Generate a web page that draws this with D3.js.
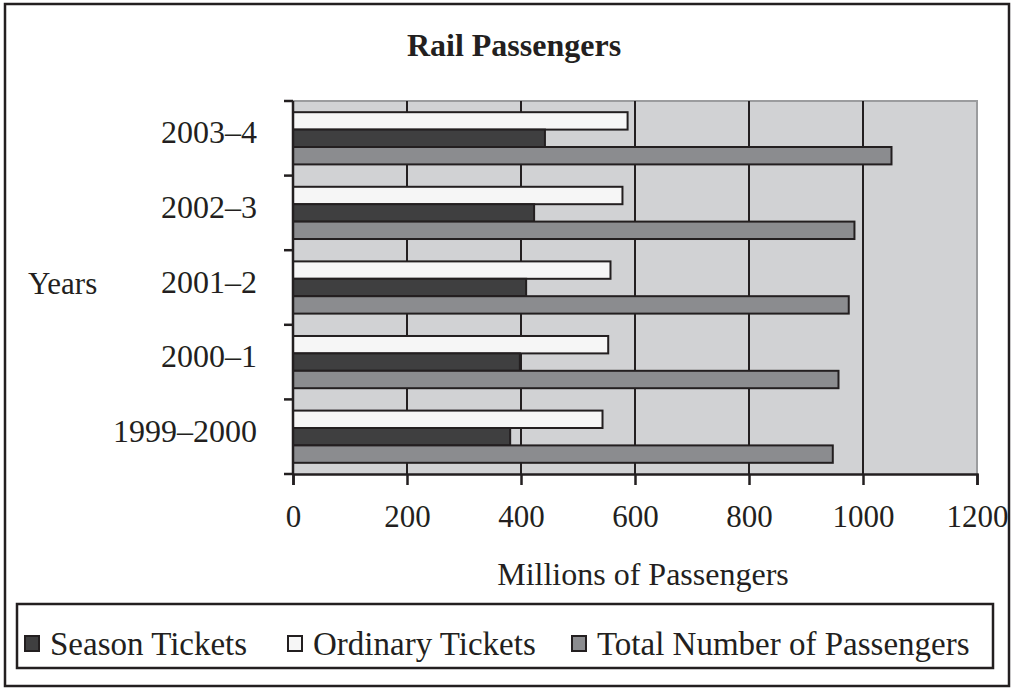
<!DOCTYPE html>
<html>
<head>
<meta charset="utf-8">
<script src="https://cdn.jsdelivr.net/npm/d3@7"></script>
<style>
  body { margin: 0; background: #fff; }
  text { font-family: "Liberation Serif", "Times New Roman", serif; fill: #231f20; }
</style>
</head>
<body>
<div id="chart"></div>
<script>
// Rail passengers chart - horizontal grouped bars
var years = ["2003–4", "2002–3", "2001–2", "2000–1", "1999–2000"];
var seriesNames = ["Ordinary Tickets", "Season Tickets", "Total Number of Passengers"];
var ordinary = [587, 578, 557, 553, 543];
var season = [442, 423, 409, 398, 381];
var total = [1050, 985, 975, 957, 947];
var xTicks = [0, 200, 400, 600, 800, 1000, 1200];
var legendOrder = ["Season Tickets", "Ordinary Tickets", "Total Number of Passengers"];

(function() {
	var width = 1015,
		height = 693;

	var plot = { left: 293, right: 977, top: 101, bottom: 474 };

	var rows = years.map(function(y, i) {
		return { year: y, values: [ordinary[i], season[i], total[i]] };
	});

	var svg = d3.select("#chart")
				.append("svg")
				.attr("width", width)
				.attr("height", height);

	// outer frame
	svg.append("rect")
		.attr("x", 5)
		.attr("y", 4)
		.attr("width", 1004)
		.attr("height", 682)
		.attr("fill", "none")
		.attr("stroke", "#231f20")
		.attr("stroke-width", 2.5);

	var xScale = d3.scaleLinear()
					.domain([0, 1200])
					.range([plot.left, plot.right]);

	var yScale = d3.scaleBand()
					.domain(years)
					.range([plot.top, plot.bottom])
					.paddingInner(0.3)
					.paddingOuter(0.15);

	var subScale = d3.scaleBand()
					.domain(seriesNames)
					.range([0, yScale.bandwidth()]);

	var colorScale = d3.scaleOrdinal()
					.domain(seriesNames)
					.range(["#f6f6f6", "#3f3f40", "#8b8c8f"]);

	// plot background
	svg.append("rect")
		.attr("x", plot.left)
		.attr("y", plot.top)
		.attr("width", plot.right - plot.left)
		.attr("height", plot.bottom - plot.top)
		.attr("fill", "#d1d2d4");

	// top and right edge in grey
	svg.append("path")
		.attr("d", "M" + plot.left + "," + plot.top + "H" + plot.right + "V" + plot.bottom)
		.attr("fill", "none")
		.attr("stroke", "#9b9c9e")
		.attr("stroke-width", 2);

	// vertical gridlines
	svg.selectAll(".grid")
		.data(xTicks.slice(1, -1))
		.enter()
		.append("line")
		.attr("class", "grid")
		.attr("x1", function(d) { return xScale(d); })
		.attr("x2", function(d) { return xScale(d); })
		.attr("y1", plot.top)
		.attr("y2", plot.bottom)
		.attr("stroke", "#231f20")
		.attr("stroke-width", 2);

	// bars
	var groups = svg.selectAll(".row")
		.data(rows)
		.enter()
		.append("g")
		.attr("class", "row")
		.attr("transform", function(d) { return "translate(0," + yScale(d.year) + ")"; });

	groups.selectAll("rect")
		.data(function(d) {
			return d.values.map(function(v, i) { return { name: seriesNames[i], value: v }; });
		})
		.enter()
		.append("rect")
		.attr("x", xScale(0))
		.attr("y", function(d) { return subScale(d.name); })
		.attr("width", function(d) { return xScale(d.value) - xScale(0); })
		.attr("height", subScale.bandwidth())
		.attr("fill", function(d) { return colorScale(d.name); })
		.attr("stroke", "#231f20")
		.attr("stroke-width", 2);

	// x axis
	var xAxis = d3.axisBottom(xScale)
				.tickValues(xTicks)
				.tickSize(11)
				.tickPadding(20)
				.tickFormat(d3.format("d"));

	var gx = svg.append("g")
		.attr("transform", "translate(0," + plot.bottom + ")")
		.call(xAxis);
	gx.select(".domain").attr("stroke", "#231f20").attr("stroke-width", 2.5);
	gx.selectAll(".tick line").attr("stroke", "#231f20").attr("stroke-width", 2.5);
	gx.selectAll(".tick text")
		.attr("font-family", "Liberation Serif, Times New Roman, serif")
		.attr("font-size", 31)
		.attr("fill", "#231f20");

	// y axis line and ticks at band boundaries
	var boundaries = years.map(function(y) { return yScale(y) - yScale.step() * yScale.paddingInner() / 2; });
	boundaries.push(plot.bottom);

	svg.append("line")
		.attr("x1", plot.left)
		.attr("x2", plot.left)
		.attr("y1", plot.top)
		.attr("y2", plot.bottom)
		.attr("stroke", "#231f20")
		.attr("stroke-width", 2.5);

	svg.selectAll(".ytick")
		.data(boundaries)
		.enter()
		.append("line")
		.attr("class", "ytick")
		.attr("x1", plot.left - 9)
		.attr("x2", plot.left)
		.attr("y1", function(d) { return d; })
		.attr("y2", function(d) { return d; })
		.attr("stroke", "#231f20")
		.attr("stroke-width", 2.5);

	svg.selectAll(".ylabel")
		.data(years)
		.enter()
		.append("text")
		.attr("class", "ylabel")
		.attr("x", 257)
		.attr("y", function(d) { return yScale(d) + yScale.bandwidth() / 2 + 5; })
		.attr("text-anchor", "end")
		.attr("font-size", 32)
		.text(function(d) { return d; });

	// titles
	svg.append("text")
		.attr("x", 514)
		.attr("y", 56)
		.attr("text-anchor", "middle")
		.attr("font-size", 32)
		.attr("font-weight", "bold")
		.text("Rail Passengers");

	svg.append("text")
		.attr("x", 28)
		.attr("y", 294)
		.attr("font-size", 31)
		.text("Years");

	svg.append("text")
		.attr("x", 643)
		.attr("y", 585)
		.attr("text-anchor", "middle")
		.attr("font-size", 32)
		.text("Millions of Passengers");

	// legend
	svg.append("rect")
		.attr("x", 17)
		.attr("y", 604)
		.attr("width", 976)
		.attr("height", 64)
		.attr("fill", "none")
		.attr("stroke", "#231f20")
		.attr("stroke-width", 2.5);

	var legendX = [25, 288, 572];

	var items = svg.selectAll(".legend")
		.data(legendOrder)
		.enter()
		.append("g")
		.attr("class", "legend")
		.attr("transform", function(d, i) { return "translate(" + legendX[i] + ",636)"; });

	items.append("rect")
		.attr("x", 0)
		.attr("y", 0)
		.attr("width", 14)
		.attr("height", 15)
		.attr("fill", function(d) { return colorScale(d); })
		.attr("stroke", "#231f20")
		.attr("stroke-width", 2);

	items.append("text")
		.attr("x", 25)
		.attr("y", 19)
		.attr("font-size", 33)
		.text(function(d) { return d; });

})();
</script>
</body>
</html>
